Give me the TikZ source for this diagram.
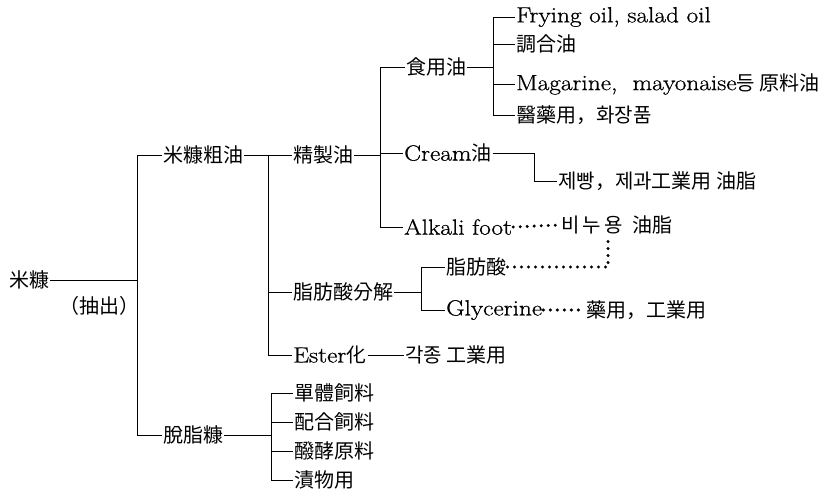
\documentclass[tikz,border=0pt]{standalone}
\usepackage{fontspec}
\setmainfont{Latin Modern Roman}[FakeStretch=1.15, FakeBold=0.8]
\newfontfamily\cjkfontfam{Noto Sans CJK KR}
\newcommand\cjkf{\cjkfontfam\fontsize{20}{24}\selectfont}
\newcommand\latf{\rmfamily\fontsize{22}{26}\selectfont}
\tikzset{
  cj/.style={anchor=west, inner sep=1pt, font=\cjkf},
  lt/.style={anchor=west, inner sep=1pt, font=\latf},
  ln/.style={line width=0.8pt},
  dotline/.style={line width=3.3pt, line cap=round, dash pattern=on 0pt off 7pt},
}
\begin{document}
\begin{tikzpicture}[x=1pt, y=-1pt]
\useasboundingbox (0,0) rectangle (833,497);
% bus x positions
\coordinate (bus1) at (137,0);
\coordinate (bus2) at (268,0);
\coordinate (bus3) at (380,0);
\coordinate (bus4) at (493,0);
\coordinate (bus5) at (534,0);
\coordinate (bus6) at (421,0);
\coordinate (bus7) at (271,0);
\coordinate (sx) at (608,0);
% nodes
\node[cj] (rb) at (8,280) {米糠};
\node[cj] (ext) at (58,306) {（抽出）};
\node[cj] (crude) at (162,155) {米糠粗油};
\node[cj] (refined) at (292,155) {精製油};
\node[cj] (edible) at (405,67) {食用油};
\node[lt] (frying) at (515,17) {Frying\ oil,\ salad\ oil};
\node[cj] (chogap) at (515,44) {調合油};
\node[lt] (marg) at (515,84) {Magarine,\ \ mayonaise{\cjkf 등\ 原料油}};
\node[cj] (pharma) at (515,115) {醫藥用，화장품};
\node[lt] (cream) at (403,153) {Cream{\cjkf 油}};
\node[cj] (bakery) at (557,181) {제빵，제과工業用 油脂};
\node[lt] (alkali) at (403,227) {Alkali foot};
\node[cj] (soap) at (560,225) {비\,누\,용\ \ 油脂};
\node[cj] (fasplit) at (292,292) {脂肪酸分解};
\node[cj] (fa) at (445,267) {脂肪酸};
\node[lt] (gly) at (445,310) {Glycerine};
\node[cj] (use) at (585,310) {藥用，工業用};
\node[lt] (ester) at (292,355) {Ester{\cjkf 化}};
\node[cj] (various) at (404,355) {각종 工業用};
\node[cj] (defat) at (162,435) {脫脂糠};
\node[cj] (feed1) at (293,393) {單體飼料};
\node[cj] (feed2) at (293,422) {配合飼料};
\node[cj] (feed3) at (293,451) {醱酵原料};
\node[cj] (feed4) at (293,480) {漬物用};
% connectors
\draw[ln] (rb.east) -- (rb.east -| bus1);
\draw[ln] (crude.west) -- (crude.west -| bus1) -- (defat.west -| bus1) -- (defat.west);
\draw[ln] (crude.east) -- (refined.west);
\draw[ln] (crude.east -| bus2) -- (ester.west -| bus2) -- (ester.west);
\draw[ln] (fasplit.west -| bus2) -- (fasplit.west);
\draw[ln] (refined.east) -- (refined.east -| bus3);
\draw[ln] (edible.west) -- (edible.west -| bus3) -- (alkali.west -| bus3) -- (alkali.west);
\draw[ln] (cream.west -| bus3) -- (cream.west);
\draw[ln] (edible.east) -- (edible.east -| bus4);
\draw[ln] (frying.west) -- (frying.west -| bus4) -- (pharma.west -| bus4) -- (pharma.west);
\draw[ln] (chogap.west -| bus4) -- (chogap.west);
\draw[ln] (marg.west -| bus4) -- (marg.west);
\draw[ln] (cream.east) -- (cream.east -| bus5) -- (bakery.west -| bus5) -- (bakery.west);
\draw[dotline] (alkali.east) -- (soap.west);
\draw[dotline] (fa.east) -| (sx |- soap.south);
\draw[ln] (fasplit.east) -- (fasplit.east -| bus6);
\draw[ln] (fa.west) -- (fa.west -| bus6) -- (gly.west -| bus6) -- (gly.west);
\draw[dotline] (gly.east) -- (use.west);
\draw[ln] (ester.east) -- (various.west);
\draw[ln] (defat.east) -- (defat.east -| bus7);
\draw[ln] (feed1.west) -- (feed1.west -| bus7) -- (feed4.west -| bus7) -- (feed4.west);
\draw[ln] (feed2.west -| bus7) -- (feed2.west);
\draw[ln] (feed3.west -| bus7) -- (feed3.west);
\end{tikzpicture}
\end{document}
